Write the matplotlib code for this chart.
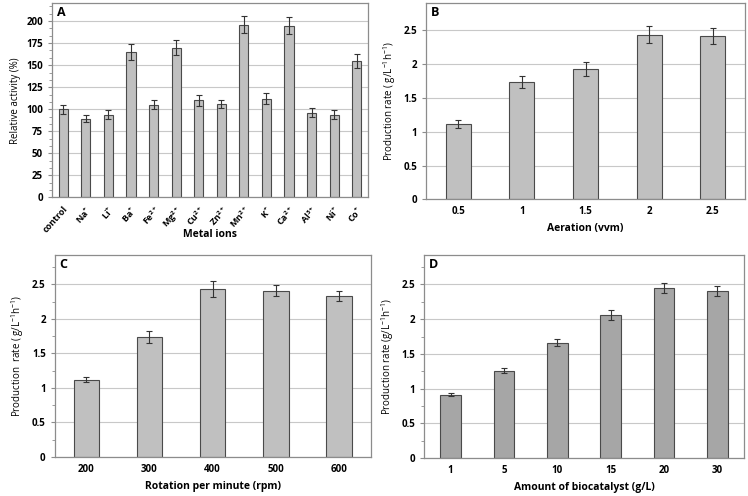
import matplotlib
matplotlib.use("Agg")
import matplotlib.pyplot as plt
from matplotlib.ticker import MultipleLocator

plt.rcParams["font.family"] = ["Open Sans", "DejaVu Sans"]
plt.rcParams["mathtext.default"] = "regular"

# Panel A: metal ions
ions = ["control", "Na$^{+}$", "Li$^{+}$", "Ba$^{+}$", "Fe$^{2+}$", "Mg$^{2+}$", "Cu$^{2+}$",
        "Zn$^{2+}$", "Mn$^{2+}$", "K$^{+}$", "Ca$^{2+}$", "Al$^{3+}$", "Ni$^{+}$", "Co$^{+}$"]
activity = [100, 89, 94, 165, 105, 170, 110, 106, 196, 112, 195, 96, 94, 155]
activity_err = [5, 4, 5, 9, 5, 8, 6, 5, 10, 6, 10, 5, 5, 8]

# Panel B: aeration
aeration = ["0.5", "1", "1.5", "2", "2.5"]
rate_aer = [1.12, 1.74, 1.93, 2.44, 2.42]
rate_aer_err = [0.06, 0.09, 0.10, 0.12, 0.12]

# Panel C: rotation
rpm = ["200", "300", "400", "500", "600"]
rate_rpm = [1.12, 1.74, 2.43, 2.41, 2.33]
rate_rpm_err = [0.04, 0.09, 0.12, 0.08, 0.07]

# Panel D: biocatalyst
biocat = ["1", "5", "10", "15", "20", "30"]
rate_bio = [0.91, 1.26, 1.66, 2.06, 2.45, 2.41]
rate_bio_err = [0.02, 0.04, 0.05, 0.07, 0.07, 0.07]

RATE_LABEL = "Production rate ( g/L$^{-1}$h$^{-1}$)"
FRAME = "#8c8c8c"
GRID = "#c8c8c8"


def draw_panel(ax, labels, values, errs, color, width, ylim, major, minor,
               letter, xlabel, ylabel, rotate=False):
    x = range(len(labels))
    ax.bar(x, values, width=width, color=color, edgecolor="#4a4a4a",
           linewidth=0.8, zorder=2)
    ax.errorbar(x, values, yerr=errs, fmt="none", ecolor="#333333",
                elinewidth=0.8, capsize=2.2, capthick=0.8, zorder=3)
    ax.set_xlim(-0.5, len(labels) - 0.5)
    ax.set_ylim(0, ylim)
    ax.yaxis.set_major_locator(MultipleLocator(major))
    ax.yaxis.set_major_formatter(plt.FuncFormatter(lambda v, p: f"{v:g}"))
    if minor:
        ax.yaxis.set_minor_locator(MultipleLocator(minor))
    ax.yaxis.grid(True, color=GRID, linewidth=0.8, zorder=0)
    ax.set_axisbelow(True)
    for sp in ax.spines.values():
        sp.set_color(FRAME)
        sp.set_linewidth(0.9)
    ax.tick_params(axis="y", which="both", colors=FRAME, labelcolor="black",
                   labelsize=7)
    ax.tick_params(axis="y", which="major", length=3)
    ax.tick_params(axis="y", which="minor", length=2)
    ax.tick_params(axis="x", length=0, labelsize=7, pad=5)
    ax.set_xticks(list(x))
    if rotate:
        ax.set_xticklabels(labels, rotation=48, ha="right", rotation_mode="anchor",
                           fontweight="bold", fontsize=6.5)
    else:
        ax.set_xticklabels(labels, fontweight="bold")
    for t in ax.get_yticklabels():
        t.set_fontweight("bold")
    ax.set_xlabel(xlabel, fontsize=7.5, fontweight="bold", labelpad=4)
    ax.set_ylabel(ylabel, fontsize=7)
    ax.text(0.015, 0.985, letter, transform=ax.transAxes, ha="left", va="top",
            fontsize=9, fontweight="bold")


fig = plt.figure(figsize=(7.48, 4.96), dpi=100)
ax_a = fig.add_axes([0.0695, 0.602, 0.4225, 0.391])
ax_b = fig.add_axes([0.570, 0.598, 0.4256, 0.395])
ax_c = fig.add_axes([0.0731, 0.0786, 0.4225, 0.4067])
ax_d = fig.add_axes([0.5668, 0.0766, 0.4279, 0.4087])

draw_panel(ax_a, ions, activity, activity_err, "#c0c0c0", 0.41, 220, 25, 25 / 3,
           "A", "Metal ions", "Relative activity (%)", rotate=True)
ax_a.xaxis.set_label_coords(0.5, -0.165)
draw_panel(ax_b, aeration, rate_aer, rate_aer_err, "#c0c0c0", 0.39, 2.9, 0.5, None,
           "B", "Aeration (vvm)", RATE_LABEL)
draw_panel(ax_c, rpm, rate_rpm, rate_rpm_err, "#c0c0c0", 0.40, 2.92, 0.5, 0.25,
           "C", "Rotation per minute (rpm)", "Production  rate ( g/L$^{-1}$h$^{-1}$)")
draw_panel(ax_d, biocat, rate_bio, rate_bio_err, "#a6a6a6", 0.39, 2.92, 0.5, 0.25,
           "D", "Amount of biocatalyst (g/L)", "Production rate (g/L$^{-1}$h$^{-1}$)")

fig.savefig("out.png", dpi=100)
